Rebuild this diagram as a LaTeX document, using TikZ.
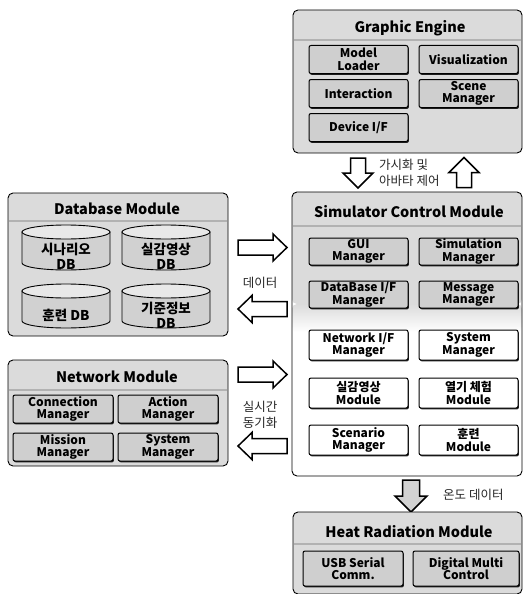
\documentclass[tikz,border=0pt]{standalone}
\usepackage{fontspec}
\setmainfont{Noto Sans CJK KR}
\usetikzlibrary{shadows}
\newcommand{\innerfnt}{\bfseries\fontsize{12}{12.5}\selectfont}
\newcommand{\titlefnt}{\bfseries\fontsize{14.5}{16}\selectfont}
\newcommand{\labfnt}{\fontsize{12.5}{16}\selectfont}
\newcommand{\cylfnt}{\bfseries\fontsize{13.5}{15}\selectfont}
\tikzset{
  outerbox/.style={draw=black, line width=0.9pt, rounded corners=5pt, fill=gray!28, inner sep=0pt},
  titletext/.style={font=\titlefnt, inner sep=0pt},
  headline/.style={draw=gray!60, line width=1.2pt},
  innerbox/.style={draw=black, line width=1pt, rounded corners=2pt, fill=gray!38,
    minimum width=99pt, minimum height=28pt, inner sep=0pt, align=center, font=\innerfnt,
    drop shadow={shadow xshift=0.9pt, shadow yshift=-1.4pt, fill=black, opacity=0.85}},
  whitebox/.style={innerbox, fill=white},
  arrowpath/.style={draw=black, line width=1.5pt, fill=white, line join=miter},
  lab/.style={font=\labfnt, text=black!85, align=center, inner sep=0pt},
  cylbody/.style={draw=black, line width=0.9pt, fill=gray!36},
  cyltop/.style={draw=black, line width=0.9pt, fill=gray!18},
  cyltext/.style={font=\cylfnt, align=center, inner sep=0pt},
}
% name, cx, top, bottom, text
\newcommand{\dbcyl}[5]{%
  \path[cylbody] (#2-44,#3+7) -- (#2-44,#4-7)
     arc[start angle=180, end angle=0, x radius=44, y radius=7] -- (#2+44,#3+7) -- cycle;
  \path[cyltop] (#2,#3+7) ellipse[x radius=44, y radius=7];
  \node[cyltext] (#1) at (#2,{(#3+#4)/2+9}) {#5};
}
% hollow block arrow: name, cx, cy, angle, length, head width, shaft width, head length, extra style
\newcommand{\hollowarrow}[9]{%
  \coordinate (#1) at (#2,#3);
  \begin{scope}[shift={(#1)}, x=1pt, y=1pt, rotate=#4]
    \path[arrowpath,#9] ({-#5/2},{#7/2}) -- ({#5/2-#8},{#7/2}) -- ({#5/2-#8},{#6/2}) -- ({#5/2},0)
      -- ({#5/2-#8},{-#6/2}) -- ({#5/2-#8},{-#7/2}) -- ({-#5/2},{-#7/2}) -- cycle;
  \end{scope}
}
\begin{document}
\begin{tikzpicture}[x=1pt,y=-1pt]
\useasboundingbox (0,0) rectangle (526,594);

% ---------------- Graphic Engine ----------------
\node[outerbox, minimum width=229pt, minimum height=143pt] (ge) at (407.5,81.5) {};
\node[titletext] (getitle) at (410,28) {Graphic Engine};
\draw[headline] (294,40) -- (521,40);
\node[innerbox] (ml) at (358.5,59.5) {Model\\Loader};
\node[innerbox] (vis) at (468.5,59.5) {Visualization};
\node[innerbox] (inter) at (358.5,93.5) {Interaction};
\node[innerbox] (scene) at (468.5,93.5) {Scene\\Manager};
\node[innerbox] (dev) at (358.5,127.5) {Device I/F};

% arrows between GE and Simulator
\hollowarrow{gedown}{358}{173}{270}{30}{30}{15}{15}{}
\hollowarrow{geup}{464}{172.5}{90}{30}{30}{15}{15}{}
\node[lab, align=left, anchor=west] (gelab) at (379,172.5) {가시화 및\\아바타 제어};

% ---------------- Simulator Control Module ----------------
\node[outerbox, fill=white, minimum width=230pt, minimum height=284pt,
  path picture={
    \fill[gray!28] (path picture bounding box.north west) rectangle ([yshift=-112pt]path picture bounding box.north east);
    \shade[top color=gray!28, bottom color=white] ([yshift=-112pt]path picture bounding box.north west) rectangle ([yshift=-140pt]path picture bounding box.north east);
  }] (sim) at (407,334) {};
\node[titletext] (simtitle) at (409,212) {Simulator Control Module};
\draw[headline] (293,226) -- (521,226);
\node[innerbox, minimum height=27pt] (gui) at (358.5,251.5) {GUI\\Manager};
\node[innerbox, minimum height=27pt] (simm) at (468.5,251.5) {Simulation\\Manager};
\node[innerbox, minimum height=27pt] (dbif) at (358.5,294.5) {DataBase I/F\\Manager};
\node[innerbox, minimum height=27pt] (msg) at (468.5,294.5) {Message\\Manager};
\node[whitebox, minimum height=30pt] (nwif) at (358.5,345) {Network I/F\\Manager};
\node[whitebox, minimum height=30pt] (sysm) at (468.5,345) {System\\Manager};
\node[whitebox, minimum height=30pt] (realm) at (358.5,393) {실감영상\\Module};
\node[whitebox, minimum height=30pt] (heatm) at (468.5,393) {열기 체험\\Module};
\node[whitebox, minimum height=30pt] (scen) at (358.5,440) {Scenario\\Manager};
\node[whitebox, minimum height=30pt] (trainm) at (468.5,440) {훈련\\Module};

% ---------------- Database Module ----------------
\node[outerbox, minimum width=220pt, minimum height=143pt] (dbm) at (118,264.5) {};
\node[titletext] (dbtitle) at (117,209) {Database Module};
\draw[headline] (9,221) -- (227,221);
\dbcyl{db1}{66}{225}{270}{시나리오\\DB}
\dbcyl{db2}{166}{225}{270}{실감영상\\DB}
\dbcyl{db3}{66}{284}{328}{훈련 DB}
\dbcyl{db4}{166}{284}{328}{기준정보\\DB}

\hollowarrow{dbr}{262.5}{247.5}{0}{49}{27}{15}{14}{}
\hollowarrow{dbl}{262.5}{309}{180}{49}{27}{15}{14}{}
\node[lab] (dblab) at (260,283) {데이터};

% ---------------- Network Module ----------------
\node[outerbox, minimum width=220pt, minimum height=106pt] (nwm) at (118,413) {};
\node[titletext] (nwtitle) at (117,377) {Network Module};
\draw[headline] (9,390) -- (227,390);
\node[innerbox, minimum width=100pt, minimum height=28pt] (conn) at (63,409) {Connection\\Manager};
\node[innerbox, minimum width=100pt, minimum height=28pt] (act) at (168,409) {Action\\Manager};
\node[innerbox, minimum width=100pt, minimum height=28pt] (miss) at (63,447) {Mission\\Manager};
\node[innerbox, minimum width=100pt, minimum height=28pt] (sysn) at (168,447) {System\\Manager};

\hollowarrow{nwr}{262.5}{374.5}{0}{49}{27}{15}{14}{}
\hollowarrow{nwl}{262.5}{446}{180}{49}{27}{15}{14}{}
\node[lab] (nwlab) at (260,415) {실시간\\동기화};

% ---------------- Heat Radiation Module ----------------
\hollowarrow{heatdown}{411}{496}{270}{32}{32}{17}{16}{fill=gray!35}
\node[lab, anchor=west] (heatlab) at (443,495) {온도 데이터};

\node[outerbox, minimum width=229pt, minimum height=82pt] (hrm) at (407.5,553) {};
\node[titletext] (hrtitle) at (409,532) {Heat Radiation Module};
\draw[headline] (294,544) -- (521,544);
\node[innerbox, minimum width=100pt, minimum height=35pt] (usb) at (353,568.5) {USB Serial\\Comm.};
\node[innerbox, minimum width=106pt, minimum height=35pt] (dmc) at (466,568.5) {Digital Multi\\Control};
\end{tikzpicture}
\end{document}
